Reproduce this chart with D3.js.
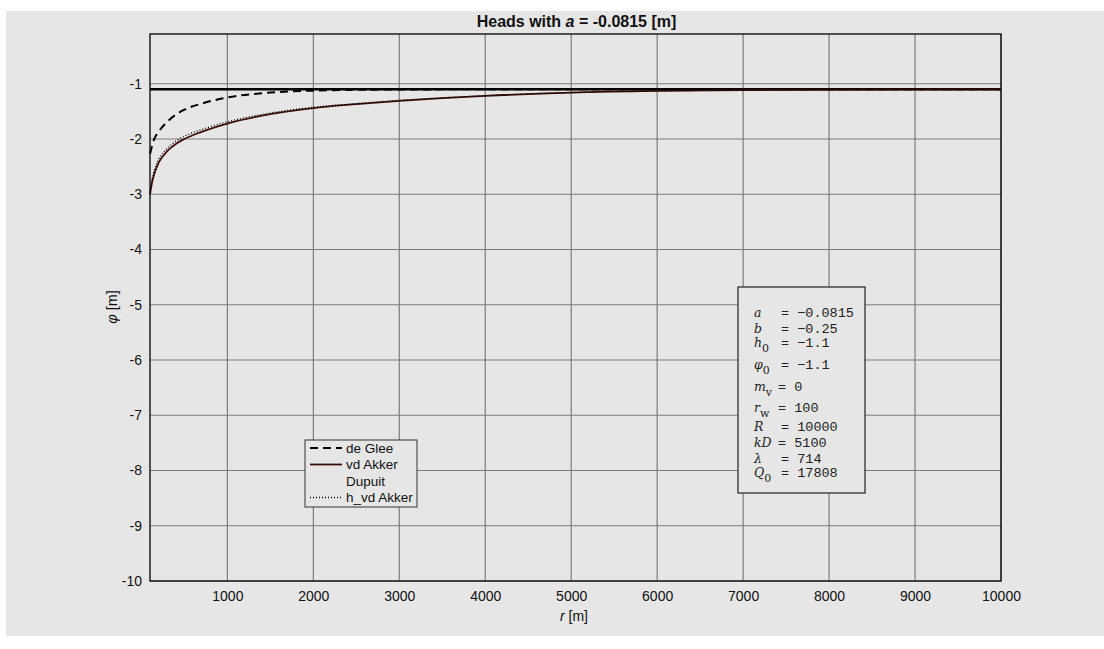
<!DOCTYPE html>
<html>
<head>
<meta charset="utf-8">
<script src="https://cdn.jsdelivr.net/npm/d3@7"></script>
<style>
  body { margin: 0; background: #ffffff; }
  svg { display: block; width: 1104px; height: 649px; }
  text { font-family: "Liberation Sans", Arial, sans-serif; fill: #111; }
</style>
</head>
<body>
<svg></svg>
<script>
// radius values
const rVals = [100, 125, 150, 200, 300, 400, 500, 700, 1000, 1500, 2000, 2500,
               3000, 3500, 4000, 5000, 6000, 7000, 8000, 9000, 10000];
const deGlee = [-2.27, -2.12, -2.0, -1.87, -1.69, -1.56, -1.47, -1.36, -1.25, -1.16, -1.125, -1.11,
                -1.105, -1.102, -1.101, -1.1, -1.1, -1.1, -1.1, -1.1, -1.1];
const vdAkker = [-3.0, -2.78, -2.63, -2.43, -2.22, -2.09, -2.0, -1.87, -1.72, -1.55, -1.44, -1.37,
                 -1.31, -1.26, -1.22, -1.16, -1.13, -1.115, -1.107, -1.103, -1.1];
const hAkker = [-2.99, -2.72, -2.57, -2.37, -2.17, -2.04, -1.95, -1.83, -1.69, -1.53, -1.425, -1.36,
                -1.30, -1.255, -1.217, -1.16, -1.13, -1.115, -1.107, -1.103, -1.1];
const h0Line = [-1.1, -1.1];
const h0R = [100, 10000];

const xTicks = [1000, 2000, 3000, 4000, 5000, 6000, 7000, 8000, 9000, 10000];
const yTicks = [-1, -2, -3, -4, -5, -6, -7, -8, -9, -10];

const legendNames = ["de Glee", "vd Akker", "Dupuit", "h_vd Akker"];
const paramNames = ["a", "b", "h", "\u03C6", "m", "r", "R", "kD", "\u03BB", "Q"];
const paramSubs = ["", "", "0", "0", "v", "w", "", "", "", "0"];
const paramValues = ["\u22120.0815", "\u22120.25", "\u22121.1", "\u22121.1", "0", "100", "10000", "5100", "714", "17808"];

let svg = d3.select("svg");

attr_area = {
    left: 150,
    top: 34,
    right: 1001,
    bottom: 581
};

// figure background
svg.append("rect")
    .attr("x", 6).attr("y", 11)
    .attr("width", 1098).attr("height", 625)
    .style("fill", "#e6e6e6");

let scaleX = d3.scaleLinear().domain([100, 10000]).range([attr_area.left, attr_area.right]);
let scaleY = d3.scaleLinear().domain([-10, -0.1]).range([attr_area.bottom, attr_area.top]);

// grid
svg.append("g")
    .selectAll("line")
    .data(xTicks)
    .enter()
    .append("line")
    .attr("x1", d => scaleX(d)).attr("x2", d => scaleX(d))
    .attr("y1", attr_area.top).attr("y2", attr_area.bottom)
    .style("stroke", "#7d7d7d")
    .style("stroke-width", 1.2);

svg.append("g")
    .selectAll("line")
    .data(yTicks)
    .enter()
    .append("line")
    .attr("x1", attr_area.left).attr("x2", attr_area.right)
    .attr("y1", d => scaleY(d)).attr("y2", d => scaleY(d))
    .style("stroke", "#7d7d7d")
    .style("stroke-width", 1.2);

// axes with labels
let axisX = d3.axisBottom(scaleX).tickValues(xTicks).tickSize(0).tickPadding(10).tickFormat(d3.format("d"));
let axisY = d3.axisLeft(scaleY).tickValues(yTicks).tickSize(0).tickPadding(8).tickFormat(d => d);

let gx = svg.append("g")
    .attr("transform", `translate(0, ${attr_area.bottom})`)
    .call(axisX);
gx.select(".domain").remove();
gx.selectAll("text").style("font-size", "14px").style("fill", "#111")
    .style("font-family", "'Liberation Sans', Arial, sans-serif");

let gy = svg.append("g")
    .attr("transform", `translate(${attr_area.left}, 0)`)
    .call(axisY);
gy.select(".domain").remove();
gy.selectAll("text").style("font-size", "14px").style("fill", "#111")
    .style("font-family", "'Liberation Sans', Arial, sans-serif");

// curves
function drawCurve(values, rs, color, width, dash) {
    const lineGenerator = d3.line()
        .x((d, i) => scaleX(rs[i]))
        .y(d => scaleY(d))
        .curve(d3.curveMonotoneX);
    svg.append("path")
        .datum(values)
        .attr("d", lineGenerator)
        .style("fill", "none")
        .style("stroke", color)
        .style("stroke-width", width)
        .style("stroke-dasharray", dash);
}

drawCurve(h0Line, h0R, "#000", 2.6, null);
drawCurve(deGlee, rVals, "#000", 2, "8,5");
drawCurve(vdAkker, rVals, "#3a0e07", 1.8, null);
drawCurve(hAkker, rVals, "#000", 1.3, "1,2");

// plot box
svg.append("rect")
    .attr("x", attr_area.left).attr("y", attr_area.top)
    .attr("width", attr_area.right - attr_area.left)
    .attr("height", attr_area.bottom - attr_area.top)
    .style("fill", "none")
    .style("stroke", "#111")
    .style("stroke-width", 1.4);

// title
let title = svg.append("text")
    .attr("x", (attr_area.left + attr_area.right) / 2 + 1)
    .attr("y", 27)
    .attr("text-anchor", "middle")
    .style("font-size", "16px")
    .style("font-weight", "bold");
title.append("tspan").text("Heads with ");
title.append("tspan").style("font-style", "italic").text("a");
title.append("tspan").text(" = -0.0815 [m]");

// axis labels
let xl = svg.append("text")
    .attr("x", 574).attr("y", 621)
    .attr("text-anchor", "middle")
    .style("font-size", "14px");
xl.append("tspan").style("font-style", "italic").text("r");
xl.append("tspan").text(" [m]");

let yl = svg.append("text")
    .attr("transform", "translate(117, 307) rotate(-90)")
    .attr("text-anchor", "middle")
    .style("font-size", "14.5px");
yl.append("tspan").style("font-style", "italic").text("\u03C6");
yl.append("tspan").text(" [m]");

// legend
let legend = svg.append("g");
legend.append("rect")
    .attr("x", 305).attr("y", 440)
    .attr("width", 112).attr("height", 67)
    .style("fill", "#e6e6e6")
    .style("stroke", "#333")
    .style("stroke-width", 1);

const legendStyle = [
    { color: "#000", width: 2, dash: "8,5" },
    { color: "#3a0e07", width: 1.8, dash: null },
    { color: "none", width: 0, dash: null },
    { color: "#000", width: 1.3, dash: "1,2" }
];

legendNames.forEach((name, i) => {
    const y = 448 + i * 16.5;
    legend.append("line")
        .attr("x1", 310).attr("x2", 342)
        .attr("y1", y).attr("y2", y)
        .style("stroke", legendStyle[i].color)
        .style("stroke-width", legendStyle[i].width)
        .style("stroke-dasharray", legendStyle[i].dash);
    legend.append("text")
        .attr("x", 346).attr("y", y + 4.5)
        .style("font-size", "13.5px")
        .text(name);
});

// parameter box
let pbox = svg.append("g");
pbox.append("rect")
    .attr("x", 738).attr("y", 287)
    .attr("width", 127).attr("height", 206)
    .style("fill", "#e6e6e6")
    .style("stroke", "#222")
    .style("stroke-width", 1.2);

const paramY = [317, 333, 347, 369, 391, 412, 431, 447, 463, 477];

paramNames.forEach((name, i) => {
    let t = pbox.append("text")
        .attr("x", 754).attr("y", paramY[i])
        .style("font-family", "'DejaVu Serif', serif")
        .style("font-style", "italic")
        .style("font-size", "12.5px")
        .style("fill", "#222");
    t.append("tspan").text(name);
    if (paramSubs[i] != "") {
        t.append("tspan")
            .attr("dy", 5)
            .style("font-style", "normal")
            .style("font-size", "11px")
            .text(paramSubs[i]);
    }
    pbox.append("text")
        .attr("x", (name == "m" || name == "r" || name == "kD") ? 778 : 781)
        .attr("y", paramY[i])
        .style("font-family", "'Liberation Mono', 'DejaVu Sans Mono', monospace")
        .style("font-size", "13.5px")
        .style("fill", "#222")
        .text("= " + paramValues[i]);
});
</script>
</body>
</html>
